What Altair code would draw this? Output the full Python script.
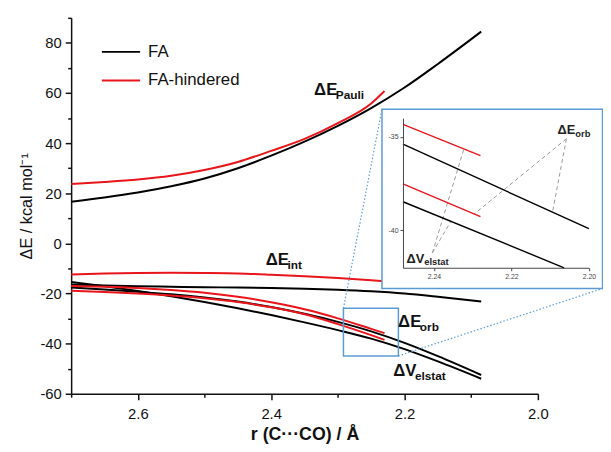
import altair as alt
import pandas as pd

FONT = "Liberation Sans"
BLUE = "#5b9bd5"
INK = "#111111"

SYSTEMS = ["FA", "FA-hindered"]
COLORS = ["#000000", "#e8151b"]

# ---- main curves ----
X_FA = [2.70, 2.65, 2.60, 2.55, 2.50, 2.45, 2.40, 2.35, 2.30, 2.25, 2.20, 2.15, 2.085]
FA_PAULI = [16.6, 18.3, 20.3, 22.8, 25.9, 30.0, 35.0, 40.6, 46.9, 54.0, 62.2, 71.6, 84.5]
FA_INT = [-16.4, -16.8, -17.1, -17.3, -17.5, -17.6, -17.8, -18.1, -18.5, -19.1, -20.0, -21.3, -23.2]
FA_ORB = [-17.6, -18.4, -19.3, -20.3, -21.6, -23.2, -25.4, -28.1, -31.3, -35.1, -39.7, -45.0, -52.5]
FA_ELSTAT = [-15.4, -17.1, -19.0, -21.1, -23.4, -25.9, -28.6, -31.5, -34.6, -38.0, -42.2, -47.1, -54.0]

X_HIN = [2.70, 2.65, 2.60, 2.55, 2.50, 2.45, 2.40, 2.35, 2.30, 2.25, 2.23]
HIN_PAULI = [23.7, 24.5, 25.5, 27.0, 29.3, 32.5, 36.9, 41.7, 48.0, 55.8, 60.8]
HIN_INT = [-12.4, -12.0, -11.8, -11.7, -11.8, -12.0, -12.5, -13.1, -13.8, -14.7, -15.1]
HIN_ELSTAT = [-17.0, -17.3, -17.8, -18.6, -19.7, -21.3, -23.5, -26.3, -29.9, -34.1, -35.8]
HIN_ORB = [-18.9, -19.4, -20.0, -20.8, -21.9, -23.4, -25.5, -28.3, -32.2, -36.6, -38.5]

# axis tick values (major + minor)
X_TICKS = [2.7, 2.6, 2.5, 2.4, 2.3, 2.2, 2.1, 2.0]
Y_TICKS = [-60, -50, -40, -30, -20, -10, 0, 10, 20, 30, 40, 50, 60, 70, 80, 90]

# zoom box and inset frame, in main-axis units
ZOOM_BOX_X = [2.2916, 2.2092]
ZOOM_BOX_Y = [-25.9, -44.9]
FRAME_X = [2.2338, 1.9030]
FRAME_Y = [53.5, -18.0]

# main labels (ΔE / ΔV with subscripts)
LABEL_MAIN = ["ΔE", "ΔE", "ΔE", "ΔV"]
LABEL_SUB = ["Pauli", "int", "orb", "elstat"]
LABEL_X = [2.3356, 2.4081, 2.2096, 2.217]
LABEL_Y = [59.3, -8.8, -33.2, -52.9]

# ---- inset ----
INSET_X_DOMAIN = [2.248, 2.20]
INSET_Y_DOMAIN = [-42.0, -34.0]
INSET_X_TICKS = [2.24, 2.22, 2.20]
INSET_Y_TICKS = [-35, -40]
INSET_FA_ORB_X = [2.248, 2.200]
INSET_FA_ORB_Y = [-35.39, -39.91]
INSET_FA_ELSTAT_X = [2.248, 2.2064]
INSET_FA_ELSTAT_Y = [-38.47, -42.0]
INSET_HIN_ELSTAT_X = [2.248, 2.228]
INSET_HIN_ELSTAT_Y = [-34.33, -36.0]
INSET_HIN_ORB_X = [2.248, 2.228]
INSET_HIN_ORB_Y = [-37.51, -39.26]
LEADER_X1 = [2.2058, 2.2058, 2.2404, 2.2404]
LEADER_Y1 = [-35.1, -35.1, -41.2, -41.2]
LEADER_X2 = [2.2094, 2.2297, 2.2323, 2.2357]
LEADER_Y2 = [-39.03, -39.14, -35.66, -39.54]
INSET_LABEL_MAIN = ["ΔE", "ΔV"]
INSET_LABEL_SUB = ["orb", "elstat"]
INSET_LABEL_X = [2.2081, 2.2471]
INSET_LABEL_Y = [-34.86, -41.72]

W, H = 473, 381

# ---- tables ----
rows = []
for sysname, xs, series in [
    ("FA", X_FA, {"pauli": FA_PAULI, "int": FA_INT, "orb": FA_ORB, "elstat": FA_ELSTAT}),
    ("FA-hindered", X_HIN, {"pauli": HIN_PAULI, "int": HIN_INT, "orb": HIN_ORB, "elstat": HIN_ELSTAT}),
]:
    for term, ys in series.items():
        for xv, yv in zip(xs, ys):
            rows.append({"x": xv, "y": yv, "system": sysname, "term": sysname + term})
df_main = pd.DataFrame(rows)

irows = []
for sysname, term, xs, ys in [
    ("FA", "orb", INSET_FA_ORB_X, INSET_FA_ORB_Y),
    ("FA", "elstat", INSET_FA_ELSTAT_X, INSET_FA_ELSTAT_Y),
    ("FA-hindered", "elstat", INSET_HIN_ELSTAT_X, INSET_HIN_ELSTAT_Y),
    ("FA-hindered", "orb", INSET_HIN_ORB_X, INSET_HIN_ORB_Y),
]:
    for xv, yv in zip(xs, ys):
        irows.append({"x": xv, "y": yv, "system": sysname, "term": sysname + term})
df_inset = pd.DataFrame(irows)

df_box = pd.DataFrame({"x": [ZOOM_BOX_X[0]], "x2": [ZOOM_BOX_X[1]], "y": [ZOOM_BOX_Y[0]], "y2": [ZOOM_BOX_Y[1]]})
df_frame = pd.DataFrame({"x": [FRAME_X[0]], "x2": [FRAME_X[1]], "y": [FRAME_Y[0]], "y2": [FRAME_Y[1]]})
df_conn = pd.DataFrame({
    "x": [ZOOM_BOX_X[0], ZOOM_BOX_X[1]], "y": [ZOOM_BOX_Y[0], ZOOM_BOX_Y[1]],
    "x2": [FRAME_X[0], FRAME_X[1]], "y2": [FRAME_Y[0], FRAME_Y[1]],
})
df_labels = pd.DataFrame({"x": LABEL_X, "y": LABEL_Y, "main": LABEL_MAIN, "sub": LABEL_SUB})
df_ilabels = pd.DataFrame({"x": INSET_LABEL_X, "y": INSET_LABEL_Y, "main": INSET_LABEL_MAIN, "sub": INSET_LABEL_SUB})
df_leaders = pd.DataFrame({"x": LEADER_X1, "y": LEADER_Y1, "x2": LEADER_X2, "y2": LEADER_Y2})

# ---- encodings ----
main_xscale = alt.Scale(domain=[2.7, 2.0], nice=False, zero=False)
main_yscale = alt.Scale(domain=[-60, 90], nice=False, zero=False)

X_MAJOR = "round(datum.value * 10) % 2 === 0"
Y_MAJOR = "datum.value % 20 === 0"

x_main = alt.X("x:Q", scale=main_xscale, axis=alt.Axis(
    values=X_TICKS, labelExpr=X_MAJOR + " ? format(datum.value, '.1f') : ''",
    title="r (C···CO) / Å", titleFont=FONT, titleFontSize=18, titleFontWeight="bold",
    titleColor=INK, titlePadding=4, labelFont=FONT, labelFontSize=15, labelColor=INK,
    labelPadding=7, tickSize={"condition": {"test": X_MAJOR, "value": 6}, "value": 3.5},
    tickColor=INK, tickWidth=1.5, domainColor=INK,
    domainWidth=1.5, grid=False, labelFlush=False, labelOverlap=False))
y_main = alt.Y("y:Q", scale=main_yscale, axis=alt.Axis(
    values=Y_TICKS, labelExpr=Y_MAJOR + " ? '' + datum.value : ''",
    title="ΔE / kcal mol⁻¹", titleFont=FONT, titleFontSize=16.5, titleFontWeight="normal",
    titleColor=INK, titlePadding=5, labelFont=FONT, labelFontSize=15, labelColor=INK,
    labelPadding=4, tickSize={"condition": {"test": Y_MAJOR, "value": 6}, "value": 3.5},
    tickColor=INK, tickWidth=1.5, domainColor=INK,
    domainWidth=1.5, grid=False, labelOverlap=False))

color = alt.Color("system:N", scale=alt.Scale(domain=SYSTEMS, range=COLORS), legend=alt.Legend(
    orient="none", legendX=30, legendY=14, title=None, symbolType="stroke",
    symbolStrokeWidth=2, symbolSize=1500, labelFont=FONT, labelFontSize=17,
    labelColor=INK, labelOffset=7, rowPadding=-6.5, padding=0))

lines = alt.Chart(df_main).mark_line(strokeWidth=2, interpolate="monotone").encode(
    x=x_main, y=y_main, color=color, detail="term:N")

box = alt.Chart(df_box).mark_rect(fillOpacity=0, stroke=BLUE, strokeWidth=1.5).encode(
    x=x_main, x2="x2", y=y_main, y2="y2")
conn = alt.Chart(df_conn).mark_rule(stroke=BLUE, strokeWidth=1.2, strokeDash=[1.5, 2]).encode(
    x=x_main, x2="x2", y=y_main, y2="y2")
frame = alt.Chart(df_frame).mark_rect(fill="white", stroke=BLUE, strokeWidth=1.5).encode(
    x=x_main, x2="x2", y=y_main, y2="y2")

lab_main = alt.Chart(df_labels).mark_text(
    align="left", baseline="alphabetic", font=FONT, fontSize=17, fontWeight="bold", color=INK
).encode(x=x_main, y=y_main, text="main:N")
lab_sub = alt.Chart(df_labels).mark_text(
    align="left", baseline="alphabetic", font=FONT, fontSize=12, fontWeight="bold", color=INK,
    dx=22, dy=4
).encode(x=x_main, y=y_main, text="sub:N")

main = alt.layer(lines, box, conn, lab_main, lab_sub, frame)

# inset
INSET_XR = [336.3, 524.7]
INSET_YR = [253.3, 101.7]
x_in = alt.X("x:Q", scale=alt.Scale(domain=INSET_X_DOMAIN, range=INSET_XR, nice=False, zero=False),
             axis=alt.Axis(orient="bottom", offset=-(H - INSET_YR[0]), values=INSET_X_TICKS,
                           labelExpr="format(datum.value, '.2f')", title=None, labelFont=FONT,
                           labelFontSize=7, labelColor="#444", labelPadding=2, tickSize=3,
                           tickColor="#444", domainColor="#444", domainWidth=1, grid=False,
                           labelFlush=False, zindex=1))
y_in = alt.Y("y:Q", scale=alt.Scale(domain=INSET_Y_DOMAIN, range=INSET_YR, nice=False, zero=False),
             axis=alt.Axis(orient="left", offset=-INSET_XR[0], values=INSET_Y_TICKS,
                           labelExpr="'' + datum.value", title=None, labelFont=FONT,
                           labelFontSize=7, labelColor="#444", labelPadding=2, tickSize=3,
                           tickColor="#444", domainColor="#444", domainWidth=1, grid=False,
                           zindex=1))

in_lines = alt.Chart(df_inset).mark_line(strokeWidth=1.4).encode(
    x=x_in, y=y_in, color=alt.Color("system:N", scale=alt.Scale(domain=SYSTEMS, range=COLORS)),
    detail="term:N")
in_leaders = alt.Chart(df_leaders).mark_rule(stroke="#999999", strokeWidth=1, strokeDash=[4, 3]).encode(
    x=x_in, x2="x2", y=y_in, y2="y2")
in_lab_main = alt.Chart(df_ilabels).mark_text(
    align="left", baseline="alphabetic", font=FONT, fontSize=13, fontWeight="bold", color="#222"
).encode(x=x_in, y=y_in, text="main:N")
in_lab_sub = alt.Chart(df_ilabels).mark_text(
    align="left", baseline="alphabetic", font=FONT, fontSize=9.5, fontWeight="bold", color="#222",
    dx=18, dy=3
).encode(x=x_in, y=y_in, text="sub:N")
inset = alt.layer(in_leaders, in_lines, in_lab_main, in_lab_sub)

chart = alt.layer(main, inset).resolve_scale(
    x="independent", y="independent"
).properties(
    width=W, height=H,
    padding={"left": 64, "top": 7, "right": 66, "bottom": 52},
    autosize=alt.AutoSizeParams(type="none"),
).configure_view(stroke=None)

chart.save("out.html", embed_options={"renderer": "svg", "actions": False})
